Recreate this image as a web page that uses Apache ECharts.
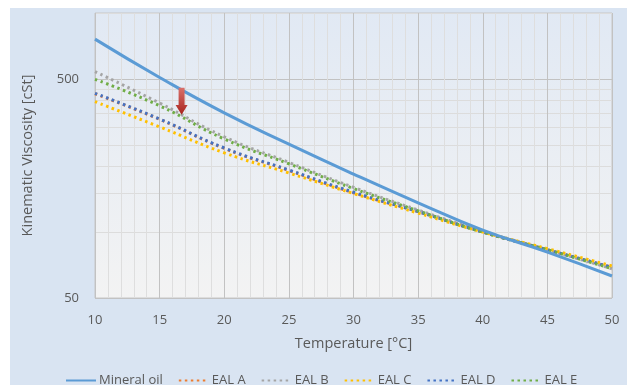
<!DOCTYPE html>
<html><head><meta charset="utf-8">
<script src="https://cdn.jsdelivr.net/npm/echarts@6/dist/echarts.min.js"></script>
<style>html,body{margin:0;padding:0;background:#fff}#c{width:627px;height:385px}</style>
</head><body><div id="c"></div>
<script>
const temps = [10, 15, 20, 25, 30, 35, 40, 45, 50];
const mineralOil = [760, 508, 350, 252, 184, 136, 102, 81, 63];
const ealA = [428, 327, 241, 191, 151, 124, 100, 83, 69];
const ealB = [540, 388, 272, 208, 160, 126, 101, 83, 68];
const ealC = [394, 302, 230, 186, 150, 122, 100, 84, 70];
const ealD = [430, 328, 242, 192, 152, 124, 100, 83, 69];
const ealE = [498, 377, 266, 205, 158, 125, 100, 83, 68];
const yMinorTicks = [50, 100, 150, 200, 250, 300, 350, 400, 450, 1000];
const yMajorTicks = [50, 500];
const arrowAt = [16.7, 396];

const pair = a => temps.map((t, i) => [t, a[i]]);
const txt = '#595959';
const font = 'Open Sans';
function dotted(name, data, color) {
  return {name, type: 'line', data: pair(data), smooth: true, showSymbol: false, symbol: 'circle',
    lineStyle: {color, width: 3, type: [2.5, 3.5]}, itemStyle: {color}, z: 3};
}
const chart = echarts.init(document.getElementById('c'));
chart.setOption({
  animation: false,
  textStyle: {fontFamily: font},
  graphic: [{type: 'rect', z: -10, shape: {x: 10, y: 8, width: 617, height: 377},
    style: {fill: '#d9e4f2'}}],
  grid: {left: 95, right: 15, top: 13, bottom: 87, show: true, borderColor: '#c6c6c6', borderWidth: 1,
    backgroundColor: new echarts.graphic.LinearGradient(0, 0, 0, 1, [{offset: 0, color: '#e1e9f4'}, {offset: 1, color: '#f3f3f3'}])},
  xAxis: {type: 'value', min: 10, max: 50, interval: 5,
    name: 'Temperature [°C]', nameLocation: 'middle', nameGap: 38,
    nameTextStyle: {color: txt, fontSize: 14.5, fontFamily: font},
    axisLine: {show: false}, axisTick: {show: false},
    axisLabel: {color: txt, fontSize: 13, margin: 16, fontFamily: font},
    splitLine: {show: true, lineStyle: {color: '#c2c2c2', width: 1}},
    minorTick: {show: false, splitNumber: 5},
    minorSplitLine: {show: true, lineStyle: {color: '#dedede', width: 1}}},
  yAxis: [
    {type: 'log', logBase: 10, min: 50, max: 1000,
      name: 'Kinematic Viscosity [cSt]', nameLocation: 'middle', nameGap: 60,
      nameTextStyle: {color: txt, fontSize: 14.5, fontFamily: font},
      axisLine: {show: false},
      axisTick: {show: false, customValues: yMinorTicks},
      axisLabel: {color: txt, fontSize: 13, customValues: yMajorTicks, margin: 16, fontFamily: font},
      splitLine: {show: true, lineStyle: {color: '#dcdcdc', width: 1}}},
    {type: 'log', logBase: 10, min: 50, max: 1000,
      axisLine: {show: false},
      axisTick: {show: false, customValues: yMajorTicks},
      axisLabel: {show: false, customValues: yMajorTicks},
      splitLine: {show: true, lineStyle: {color: '#c2c2c2', width: 1}}}
  ],
  legend: {bottom: -7, left: 60, itemWidth: 30, itemHeight: 10, itemGap: 15,
    itemStyle: {opacity: 0},
    textStyle: {color: txt, fontSize: 13, fontFamily: font, padding: [0, 0, 0, -2]},
    data: ['Mineral oil', 'EAL A', 'EAL B', 'EAL C', 'EAL D', 'EAL E']},
  series: [
    dotted('EAL A', ealA, '#ed7d31'),
    dotted('EAL B', ealB, '#a5a5a5'),
    dotted('EAL C', ealC, '#ffc000'),
    dotted('EAL D', ealD, '#4472c4'),
    dotted('EAL E', ealE, '#70ad47'),
    {name: 'Mineral oil', type: 'line', data: pair(mineralOil), smooth: true, showSymbol: false, symbol: 'circle',
      lineStyle: {color: '#5b9bd5', width: 3}, itemStyle: {color: '#5b9bd5'}, z: 4,
      markPoint: {silent: true, symbol: 'path://M3,0 L9,0 L9,18 L12,18 L6,28 L0,18 L3,18 Z',
        symbolSize: [12, 27], label: {show: false},
        itemStyle: {color: new echarts.graphic.LinearGradient(0, 0, 0, 1, [{offset: 0, color: '#d9716b'}, {offset: 1, color: '#a8231d'}])},
        data: [{coord: arrowAt}]}}
  ]
});
</script></body></html>
